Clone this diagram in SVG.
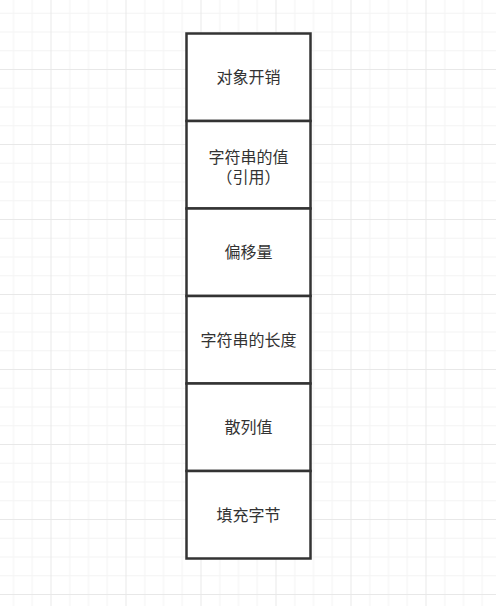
<svg xmlns="http://www.w3.org/2000/svg" width="496" height="606" viewBox="0 0 496 606">
  <defs>
    <pattern id="grid" patternUnits="userSpaceOnUse" x="50.5" y="69" width="75" height="75">
      <rect x="18.75" y="0" width="1" height="75" fill="#f3f3f3"/>
      <rect x="37.5" y="0" width="1" height="75" fill="#f3f3f3"/>
      <rect x="56.25" y="0" width="1" height="75" fill="#f3f3f3"/>
      <rect x="0" y="18.75" width="75" height="1" fill="#f3f3f3"/>
      <rect x="0" y="37.5" width="75" height="1" fill="#f3f3f3"/>
      <rect x="0" y="56.25" width="75" height="1" fill="#f3f3f3"/>
      <rect x="0" y="0" width="1" height="75" fill="#e8e8e8"/>
      <rect x="0" y="0" width="75" height="1" fill="#e8e8e8"/>
    </pattern>
  </defs>
  <style>
    .box { fill: #ffffff; stroke: #333333; stroke-width: 2.5; }
    .lbl { font-family: "Noto Sans CJK SC", "Noto Sans", sans-serif; font-size: 16px; fill: #333333; text-anchor: middle; }
  </style>
  <rect x="0" y="0" width="496" height="606" fill="#ffffff"/>
  <rect x="0" y="0" width="496" height="606" fill="url(#grid)"/>
  <g id="node-overhead">
    <rect class="box" x="186.5" y="33.5" width="124" height="87.5"/>
    <text class="lbl" x="248.5" y="83">对象开销</text>
  </g>
  <g id="node-value">
    <rect class="box" x="186.5" y="121" width="124" height="87.5"/>
    <text class="lbl"><tspan x="248.5" y="162.5">字符串的值</tspan><tspan x="248.5" y="182.5">（引用）</tspan></text>
  </g>
  <g id="node-offset">
    <rect class="box" x="186.5" y="208.5" width="124" height="87.5"/>
    <text class="lbl" x="248.5" y="258">偏移量</text>
  </g>
  <g id="node-length">
    <rect class="box" x="186.5" y="296" width="124" height="87.5"/>
    <text class="lbl" x="248.5" y="345.5">字符串的长度</text>
  </g>
  <g id="node-hash">
    <rect class="box" x="186.5" y="383.5" width="124" height="87.5"/>
    <text class="lbl" x="248.5" y="433">散列值</text>
  </g>
  <g id="node-padding">
    <rect class="box" x="186.5" y="471" width="124" height="87.5"/>
    <text class="lbl" x="248.5" y="520.5">填充字节</text>
  </g>
  <g id="connectors"></g>
</svg>
